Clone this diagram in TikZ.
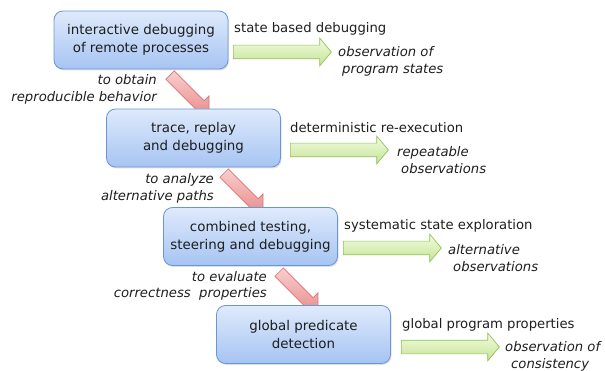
\documentclass[tikz,border=0pt]{standalone}
\usepackage{fontspec}
\setmainfont{DejaVu Sans}
\usetikzlibrary{shapes.arrows,shadows,calc,backgrounds}
\definecolor{boxtop}{HTML}{DFEAFC}
\definecolor{boxbot}{HTML}{A6C4F2}
\definecolor{boxline}{HTML}{6B96D6}
\definecolor{gtop}{HTML}{F3FBE2}
\definecolor{gbot}{HTML}{C4E494}
\definecolor{gline}{HTML}{94C25A}
\definecolor{rtop}{HTML}{F9CFCF}
\definecolor{rbot}{HTML}{EA8E8E}
\definecolor{rline}{HTML}{D77474}
\definecolor{txt}{HTML}{1E1E1E}
\begin{document}
\begin{tikzpicture}[x=1pt,y=-1pt,
  box/.style={rounded corners=9pt, draw=boxline, line width=0.8pt,
    top color=boxtop, bottom color=boxbot, minimum width=174pt,
    minimum height=58pt, align=center, text=txt,
    font=\fontsize{13.4}{18}\selectfont, inner sep=0pt,
    drop shadow={opacity=0.25, shadow xshift=1pt, shadow yshift=-1.5pt}},
  garrow/.style={single arrow, draw=gline, line width=0.7pt,
    top color=gtop, bottom color=gbot, minimum height=98pt,
    inner xsep=0pt, inner ysep=6.5pt, single arrow head extend=7pt,
    single arrow tip angle=100, anchor=west},
  rarrow/.style={single arrow, draw=rline, line width=0.7pt,
    top color=rtop, bottom color=rbot, minimum height=55pt,
    inner xsep=0pt, inner ysep=5.5pt, single arrow head extend=7pt,
    single arrow tip angle=90, rotate=-45},
  toplab/.style={anchor=west, text=txt, inner sep=0pt,
    font=\fontsize{13.2}{17}\selectfont},
  reslab/.style={anchor=west, text=txt, inner sep=0pt, align=left,
    font=\fontsize{13.2}{17}\selectfont\itshape},
  leftlab/.style={anchor=east, text=txt, inner sep=0pt, align=right,
    font=\fontsize{13.2}{16.5}\selectfont\itshape}]
\useasboundingbox (0,0) rectangle (605,371);

% boxes
\node[box] (b1) at (141,40) {interactive debugging\\of remote processes};
\node[box] (b2) at (193.5,138) {trace, replay\\and debugging};
\node[box] (b3) at (250.5,236.5) {combined testing,\\steering and debugging};
\node[box] (b4) at (303.5,334.5) {global predicate\\detection};

% red arrows between boxes (behind)
\begin{pgfonlayer}{background}
\node[rarrow] (r1) at (187.5,92.5) {};
\node[rarrow] (r2) at (241.5,190.5) {};
\node[rarrow] (r3) at (296.5,289.5) {};
\end{pgfonlayer}

% green arrows
\node[garrow] (g1) at (233,52) {};
\node[garrow] (g2) at (290,150) {};
\node[garrow] (g3) at (343,248) {};
\node[garrow] (g4) at (401,347) {};

% labels above green arrows
\node[toplab] (t1) at (234,29) {state based debugging};
\node[toplab] (t2) at (290,128) {deterministic re-execution};
\node[toplab] (t3) at (344,226) {systematic state exploration};
\node[toplab] (t4) at (402,325) {global program properties};

% results
\node[reslab] (s1) at (338,61) {observation of\\\hspace*{4pt}program states};
\node[reslab] (s2) at (397,160) {repeatable\\\hspace*{4pt}observations};
\node[reslab] (s3) at (448,258) {alternative\\\hspace*{5pt}observations};
\node[reslab] (s4) at (505,356) {observation of\\\hspace*{6pt}consistency};

% left labels
\node[leftlab] (l1) at (157,89.5) {to obtain\\reproducible behavior};
\node[leftlab] (l2) at (214,188.5) {to analyze\\alternative paths};
\node[leftlab] (l3) at (267,286) {to evaluate\\correctness~ properties};
\end{tikzpicture}
\end{document}
